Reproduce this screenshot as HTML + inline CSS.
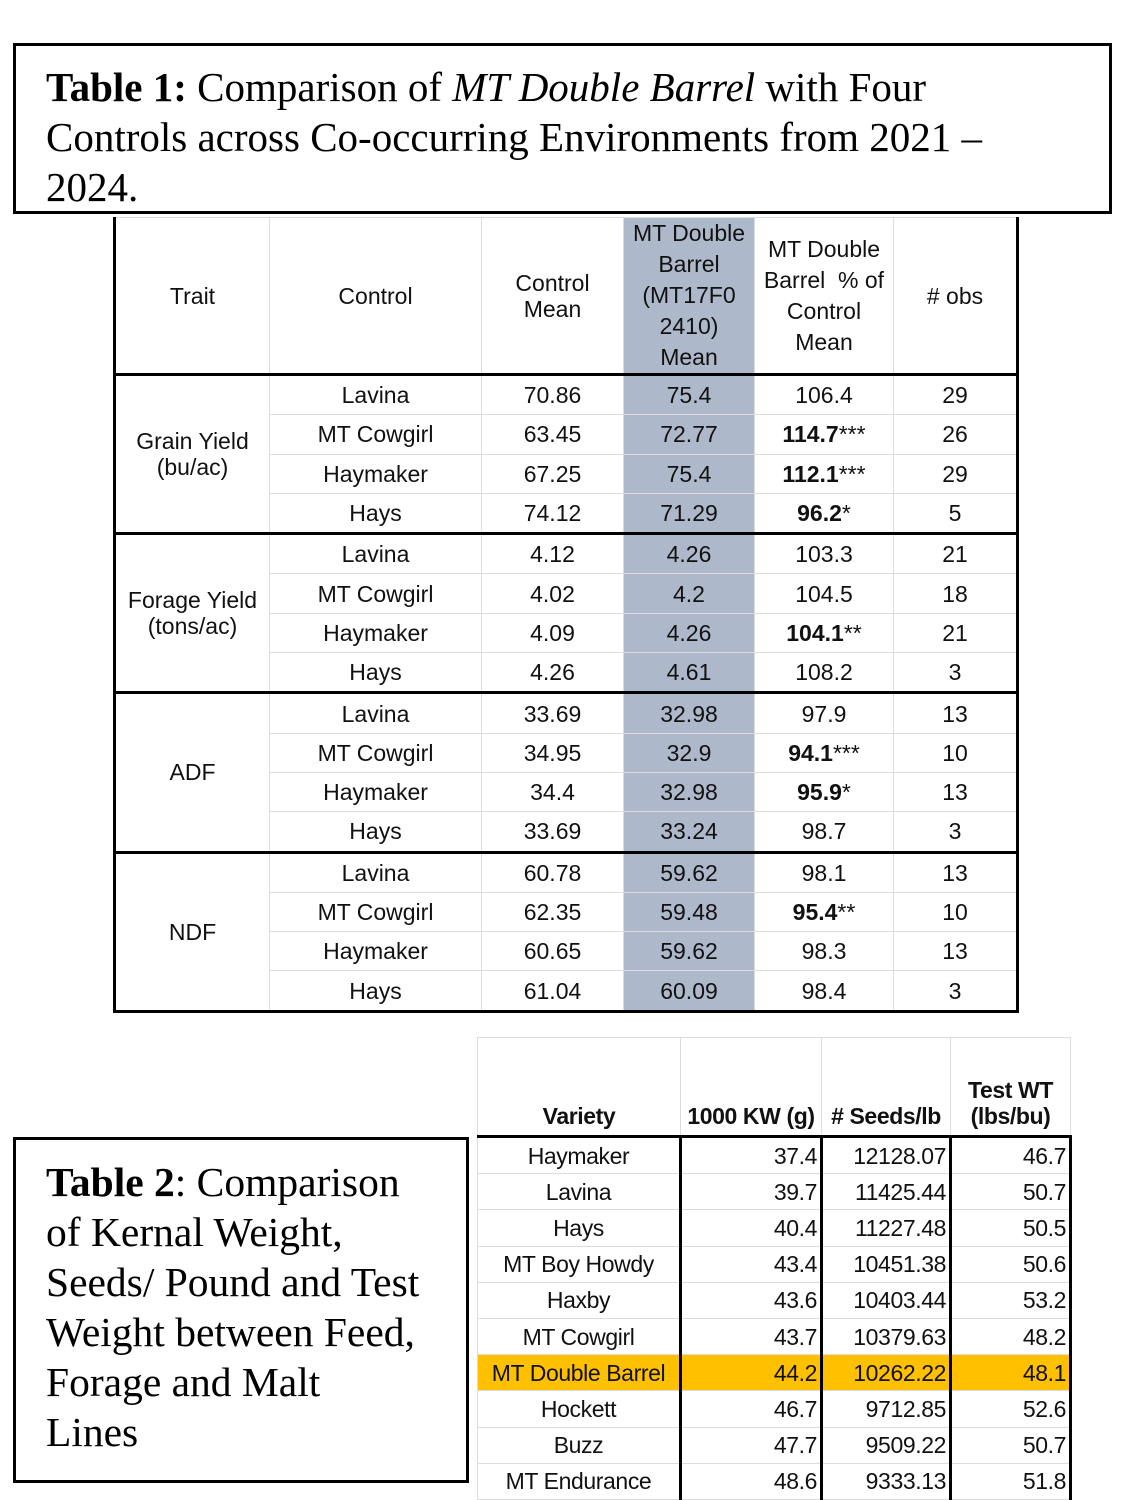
<!DOCTYPE html>
<html><head><meta charset="utf-8"><style>
body{margin:0;width:1125px;height:1500px;background:#fff;position:relative;overflow:hidden;font-family:"Liberation Sans",Arial,sans-serif;}
.box{position:absolute;border:3px solid #000;box-sizing:border-box;font-family:"Liberation Serif",serif;color:#000;}
#t1{position:absolute;left:113px;top:217px;border-collapse:collapse;table-layout:fixed;font-size:23px;color:#111;}
#t1 td{border:1px solid #dcdcdc;text-align:center;padding:0;height:38.3px;line-height:26px;}
#t1 td.blue{background:#adb9ca;}
#t1 tr.h td{height:155px;border-bottom:3px solid #000;}
#t1 tr.g td{border-top:3px solid #000;}
#t1 td.tr{border-left:3px solid #000;}
#t1 td.last{border-right:3px solid #000;}
#t1 tr.end td{border-bottom:3px solid #000;}
#t2{position:absolute;left:477px;top:1037px;border-collapse:collapse;table-layout:fixed;font-family:"Liberation Sans Narrow","Liberation Sans",sans-serif;font-size:23px;color:#111;letter-spacing:-0.4px;}
#t2 td{border:1px solid #dcdcdc;height:35.2px;padding:0 3px;line-height:26px;}
#t2 tr.h td{height:91px;vertical-align:bottom;font-weight:bold;text-align:center;border-bottom:3px solid #000;padding-bottom:6px;}
#t2 td.v{text-align:center;}
#t2 td.n{text-align:right;border-left:3px solid #000;}
#t2 td.n.e{border-right:3px solid #000;}
#t2 tr.o td{background:#ffc000;}
</style></head><body>
<div class="box" style="left:13px;top:43px;width:1099px;height:171px;padding:16px 0 0 30px;font-size:41px;line-height:50px;white-space:nowrap;"><b>Table 1:</b> Comparison of <i>MT Double Barrel</i> with Four<br>Controls across Co-occurring Environments from 2021 –<br>2024.</div>

<table id="t1">
<colgroup><col style="width:155px"><col style="width:212px"><col style="width:142px"><col style="width:131px"><col style="width:139px"><col style="width:124px"></colgroup>
<tr class="h"><td class="tr">Trait</td><td>Control</td><td>Control<br>Mean</td><td class="blue" style="line-height:31px">MT Double<br>Barrel<br>(MT17F0<br>2410)<br>Mean</td><td style="line-height:31px">MT Double<br>Barrel&nbsp; % of<br>Control<br>Mean</td><td class="last"># obs</td></tr>
<tr class="g"><td class="tr" rowspan="4">Grain Yield<br>(bu/ac)</td><td>Lavina</td><td>70.86</td><td class="blue">75.4</td><td>106.4</td><td class="last">29</td></tr>
<tr><td>MT Cowgirl</td><td>63.45</td><td class="blue">72.77</td><td><b>114.7</b>***</td><td class="last">26</td></tr>
<tr><td>Haymaker</td><td>67.25</td><td class="blue">75.4</td><td><b>112.1</b>***</td><td class="last">29</td></tr>
<tr><td>Hays</td><td>74.12</td><td class="blue">71.29</td><td><b>96.2</b>*</td><td class="last">5</td></tr>
<tr class="g"><td class="tr" rowspan="4">Forage Yield<br>(tons/ac)</td><td>Lavina</td><td>4.12</td><td class="blue">4.26</td><td>103.3</td><td class="last">21</td></tr>
<tr><td>MT Cowgirl</td><td>4.02</td><td class="blue">4.2</td><td>104.5</td><td class="last">18</td></tr>
<tr><td>Haymaker</td><td>4.09</td><td class="blue">4.26</td><td><b>104.1</b>**</td><td class="last">21</td></tr>
<tr><td>Hays</td><td>4.26</td><td class="blue">4.61</td><td>108.2</td><td class="last">3</td></tr>
<tr class="g"><td class="tr" rowspan="4">ADF</td><td>Lavina</td><td>33.69</td><td class="blue">32.98</td><td>97.9</td><td class="last">13</td></tr>
<tr><td>MT Cowgirl</td><td>34.95</td><td class="blue">32.9</td><td><b>94.1</b>***</td><td class="last">10</td></tr>
<tr><td>Haymaker</td><td>34.4</td><td class="blue">32.98</td><td><b>95.9</b>*</td><td class="last">13</td></tr>
<tr><td>Hays</td><td>33.69</td><td class="blue">33.24</td><td>98.7</td><td class="last">3</td></tr>
<tr class="g"><td class="tr" rowspan="4" style="border-bottom:3px solid #000">NDF</td><td>Lavina</td><td>60.78</td><td class="blue">59.62</td><td>98.1</td><td class="last">13</td></tr>
<tr><td>MT Cowgirl</td><td>62.35</td><td class="blue">59.48</td><td><b>95.4</b>**</td><td class="last">10</td></tr>
<tr><td>Haymaker</td><td>60.65</td><td class="blue">59.62</td><td>98.3</td><td class="last">13</td></tr>
<tr class="end"><td>Hays</td><td>61.04</td><td class="blue">60.09</td><td>98.4</td><td class="last">3</td></tr>
</table>

<div class="box" style="left:13px;top:1137px;width:456px;height:346px;padding:17px 0 0 30px;font-size:41.5px;line-height:50px;white-space:nowrap;"><b>Table 2</b>: Comparison<br>of Kernal Weight,<br>Seeds/ Pound and Test<br>Weight between Feed,<br>Forage and Malt<br>Lines</div>

<table id="t2">
<colgroup><col style="width:203px"><col style="width:141px"><col style="width:129px"><col style="width:120px"></colgroup>
<tr class="h"><td>Variety</td><td>1000 KW (g)</td><td># Seeds/lb</td><td>Test WT<br>(lbs/bu)</td></tr>
<tr><td class="v">Haymaker</td><td class="n">37.4</td><td class="n">12128.07</td><td class="n e">46.7</td></tr>
<tr><td class="v">Lavina</td><td class="n">39.7</td><td class="n">11425.44</td><td class="n e">50.7</td></tr>
<tr><td class="v">Hays</td><td class="n">40.4</td><td class="n">11227.48</td><td class="n e">50.5</td></tr>
<tr><td class="v">MT Boy Howdy</td><td class="n">43.4</td><td class="n">10451.38</td><td class="n e">50.6</td></tr>
<tr><td class="v">Haxby</td><td class="n">43.6</td><td class="n">10403.44</td><td class="n e">53.2</td></tr>
<tr><td class="v">MT Cowgirl</td><td class="n">43.7</td><td class="n">10379.63</td><td class="n e">48.2</td></tr>
<tr class="o"><td class="v">MT Double Barrel</td><td class="n">44.2</td><td class="n">10262.22</td><td class="n e">48.1</td></tr>
<tr><td class="v">Hockett</td><td class="n">46.7</td><td class="n">9712.85</td><td class="n e">52.6</td></tr>
<tr><td class="v">Buzz</td><td class="n">47.7</td><td class="n">9509.22</td><td class="n e">50.7</td></tr>
<tr><td class="v">MT Endurance</td><td class="n">48.6</td><td class="n">9333.13</td><td class="n e">51.8</td></tr>
</table>
</body></html>
